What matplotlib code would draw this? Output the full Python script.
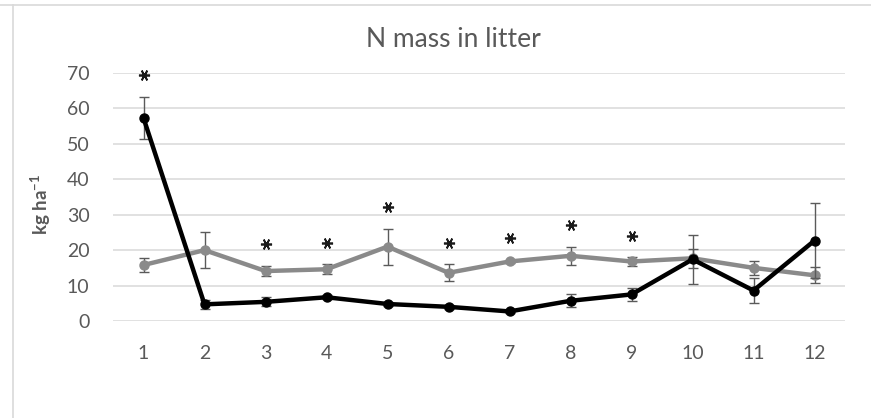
import matplotlib
matplotlib.use("Agg")
import matplotlib.pyplot as plt
from matplotlib.lines import Line2D
import numpy as np

plt.rcParams['font.family'] = ['Lato', 'DejaVu Sans']
plt.rcParams['mathtext.fontset'] = 'custom'
plt.rcParams['mathtext.rm'] = 'Lato'
plt.rcParams['mathtext.bf'] = 'Lato:bold'

# Sampling dates
months = [1, 2, 3, 4, 5, 6, 7, 8, 9, 10, 11, 12]

# N mass in litter (kg ha-1) and standard errors
black_mean = [57.3, 4.7, 5.4, 6.7, 4.8, 4.0, 2.7, 5.7, 7.5, 17.4, 8.6, 22.7]
black_err = [6.0, 1.3, 1.3, 0.6, 0.5, 0.5, 0.4, 1.8, 1.9, 7.0, 3.5, 10.5]
gray_mean = [15.8, 20.0, 14.1, 14.6, 21.0, 13.6, 16.8, 18.4, 16.8, 17.7, 15.0, 12.9]
gray_err = [1.9, 5.1, 1.4, 1.4, 5.1, 2.4, 0.5, 2.6, 1.2, 2.6, 1.9, 2.3]

# Dates with a significant difference between the two series
significant = [1, 3, 4, 5, 6, 7, 8, 9]

W, H = 871, 418
fig = plt.figure(figsize=(W / 100, H / 100), dpi=100)
fig.patch.set_facecolor('white')

# thin chart-area frame lines (top and left)
fig.add_artist(Line2D([0, 1], [1 - 4.5 / H, 1 - 4.5 / H], color='#d9d9d9', lw=1.2,
                      transform=fig.transFigure))
fig.add_artist(Line2D([13 / W, 13 / W], [0, 1 - 4.5 / H], color='#d9d9d9', lw=1.2,
                      transform=fig.transFigure))

ax = fig.add_axes([113 / W, 1 - 321 / H, (845 - 113) / W, (321 - 73) / H])
ax.set_xlim(0.5, 12.5)
ax.set_ylim(0, 70)
ax.set_yticks(np.arange(0, 71, 10))
ax.set_xticks(months)
ax.set_xticklabels([str(m) for m in months])

ax.grid(axis='y', color='#d9d9d9', lw=1.1)
ax.set_axisbelow(True)
for s in ax.spines.values():
    s.set_visible(False)
ax.tick_params(length=0, labelsize=14, labelcolor='#595959')
ax.tick_params(axis='x', pad=17)
ax.tick_params(axis='y', pad=17)

ecol = '#5a5a5a'
ax.errorbar(months, gray_mean, yerr=gray_err, color='#8a8a8a', lw=3.2,
            marker='o', ms=6.5, ecolor=ecol, elinewidth=1, capsize=3.8, capthick=1,
            zorder=3)
ax.errorbar(months, black_mean, yerr=black_err, color='black', lw=3.2,
            marker='o', ms=6.5, ecolor=ecol, elinewidth=1, capsize=3.8, capthick=1,
            zorder=4)

# significance markers placed above the highest error bar
star_x, star_y = [], []
for m in significant:
    i = months.index(m)
    top = max(black_mean[i] + black_err[i], gray_mean[i] + gray_err[i])
    star_x.append(m)
    star_y.append(top + 6.1)
ax.plot(star_x, star_y, ls='none', marker=(6, 2, 90), ms=8, mew=1.25,
        color='#1a1a1a', clip_on=False, zorder=5)

fig.text(453 / W, 1 - 47 / H, 'N mass in litter', ha='center', va='baseline',
         fontsize=19, color='#595959')
fig.text(41 / W, 1 - 204 / H, r'kg ha$^{\mathbf{-1}}$', rotation=90, ha='center',
         va='center', fontsize=13.5, color='#595959', fontweight='bold')

fig.savefig('out.png', dpi=100)
